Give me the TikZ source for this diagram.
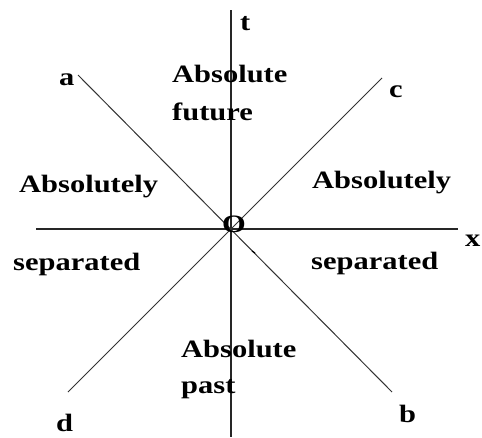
\documentclass[tikz,border=0pt]{standalone}
\usepackage{fontspec}
\setmainfont{Liberation Serif}[FakeStretch=1.22]
\begin{document}
\begin{tikzpicture}[x=1pt,y=-1pt,
  lbl/.style={font=\fontsize{25}{27}\selectfont\bfseries, inner sep=0pt, anchor=base west},
  axis/.style={line width=1.6pt, black!85},
  cone/.style={line width=1pt, black!80}]
\useasboundingbox (0,0) rectangle (482,437);
% axes
\coordinate (tTop) at (231,10);
\coordinate (tBot) at (231,437);
\coordinate (xL) at (36,229);
\coordinate (xR) at (458,229);
\coordinate (A) at (78,75);
\coordinate (B) at (392,392);
\coordinate (C) at (382,78);
\coordinate (D) at (68,392);
\draw[axis] (tTop) -- (tBot);
\draw[axis] (xL) -- (xR);
\draw[cone] (A) -- (B);
\draw[cone] (C) -- (D);
% origin
\node[lbl, anchor=center] (O) at (234,224) {O};
\coordinate (m1) at (252,251);
\coordinate (m2) at (255,253);
\draw[line width=1.2pt] (m1) -- (m2);
% end labels
\node[lbl] (lt) at (240,30) {t};
\node[lbl] (la) at (59,85) {a};
\node[lbl] (lc) at (389,97) {c};
\node[lbl] (lx) at (465,246) {x};
\node[lbl] (lb) at (399,422) {b};
\node[lbl] (ld) at (56,431) {d};
% region texts
\node[lbl] (f1) at (172,82) {Absolute};
\node[lbl] (f2) at (172,120) {future};
\node[lbl] (l1) at (19,192) {Absolutely};
\node[lbl] (r1) at (312,188) {Absolutely};
\node[lbl] (l2) at (13,270) {separated};
\node[lbl] (r2) at (311,269) {separated};
\node[lbl] (p1) at (181,357) {Absolute};
\node[lbl] (p2) at (181,393) {past};
\end{tikzpicture}
\end{document}
